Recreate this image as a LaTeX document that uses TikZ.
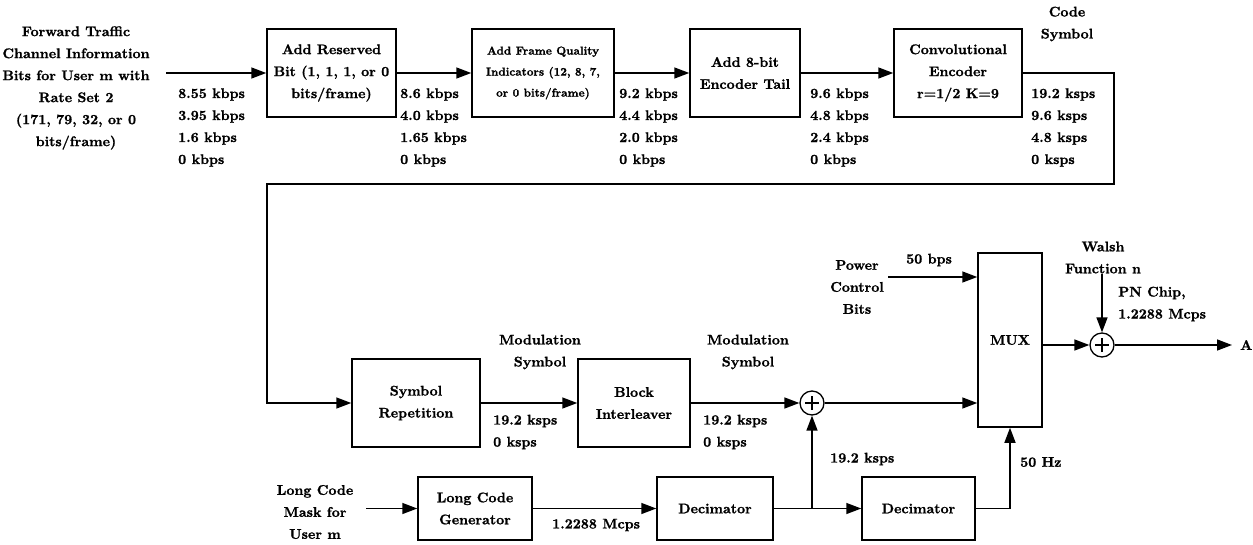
\documentclass[tikz,border=0pt]{standalone}
\usepackage{fontspec}
\setmainfont{lmroman10-regular.otf}[BoldFont=lmroman10-bold.otf, BoldFeatures={FakeBold=1.2}]
\usetikzlibrary{arrows.meta}
\begin{document}
\begin{tikzpicture}[x=1pt,y=-1pt,
  font=\fontsize{14}{22}\selectfont\bfseries,
  blk/.style={draw, line width=1.5pt, align=center, inner sep=0pt},
  lbl/.style={align=center, inner sep=0pt},
  rate/.style={align=left, inner sep=0pt, anchor=west},
  arr/.style={line width=1.5pt, -{Triangle[length=15pt,width=11pt]}},
  adder/.style={circle, draw, line width=1.3pt, minimum size=24pt, inner sep=0pt,
    path picture={\draw[line width=1.5pt] (path picture bounding box.center) +(-7pt,0pt) -- +(7pt,0pt)
      (path picture bounding box.center) +(0pt,-7pt) -- +(0pt,7pt);}}
]
\useasboundingbox (0,0) rectangle (1253,544);

% top row blocks
\node[blk, minimum width=129pt, minimum height=88pt] (rb) at (331.5,73) {Add Reserved\\Bit (1, 1, 1, or 0\\bits/frame)};
\node[blk, minimum width=142pt, minimum height=88pt, font=\fontsize{11.5}{21}\selectfont\bfseries] (fq) at (543,73) {Add Frame Quality\\Indicators (12, 8, 7,\\or 0 bits/frame)};
\node[blk, minimum width=110pt, minimum height=88pt] (et) at (745,73) {Add 8-bit\\Encoder Tail};
\node[blk, minimum width=128pt, minimum height=88pt] (ce) at (958,73) {Convolutional\\Encoder\\r=1/2 K=9};

% middle row
\node[blk, minimum width=128pt, minimum height=88pt] (sr) at (416,403) {Symbol\\Repetition};
\node[blk, minimum width=112pt, minimum height=88pt] (bi) at (634,403) {Block\\Interleaver};
\node[adder] (add1) at (812,403) {};
\node[blk, minimum width=64pt, minimum height=174pt] (mux) at (1010,340) {MUX};
\node[adder] (add2) at (1102,345) {};

% bottom row
\node[blk, minimum width=114pt, minimum height=63pt] (lcg) at (475,508.5) {Long Code\\Generator};
\node[blk, minimum width=116pt, minimum height=63pt] (d1) at (715,508.5) {Decimator};
\node[blk, minimum width=113pt, minimum height=63pt] (d2) at (918.5,508.5) {Decimator};

% labels
\node[lbl] (inlbl) at (76,88) {Forward Traffic\\Channel Information\\Bits for User m with\\Rate Set 2\\(171, 79, 32, or 0\\bits/frame)};
\node[rate] (r0) at (178,127.5) {8.55 kbps\\3.95 kbps\\1.6 kbps\\0 kbps};
\node[rate] (r1) at (400,127.5) {8.6 kbps\\4.0 kbps\\1.65 kbps\\0 kbps};
\node[rate] (r2) at (619,127.5) {9.2 kbps\\4.4 kbps\\2.0 kbps\\0 kbps};
\node[rate] (r3) at (810,127.5) {9.6 kbps\\4.8 kbps\\2.4 kbps\\0 kbps};
\node[rate] (r4) at (1031,127.5) {19.2 ksps\\9.6 ksps\\4.8 ksps\\0 ksps};
\node[lbl] (cs) at (1067,24) {Code\\Symbol};
\node[lbl] (ms1) at (540,352) {Modulation\\Symbol};
\node[lbl] (ms2) at (748,352) {Modulation\\Symbol};
\node[rate] (r5) at (493,432) {19.2 ksps\\0 ksps};
\node[rate] (r6) at (703,432) {19.2 ksps\\0 ksps};
\node[rate] (r7) at (552,525) {1.2288 Mcps};
\node[rate] (r8) at (830,459) {19.2 ksps};
\node[rate] (r9) at (1020,462) {50 Hz};
\node[lbl] (pcb) at (857,287) {Power\\Control\\Bits};
\node[rate] (r10) at (906,260) {50 bps};
\node[lbl] (wf) at (1103,257.5) {Walsh\\Function n};
\node[rate] (pn) at (1118,304) {PN Chip,\\1.2288 Mcps};
\node[rate] (outA) at (1240,345) {A};
\node[lbl] (lcm) at (315,512) {Long Code\\Mask for\\User m};

% free ends
\coordinate (inst) at (166,73);
\coordinate (pcbout) at (888,277);
\coordinate (wout) at (1102,274);
\coordinate (lcmout) at (366,508.5);
\coordinate (aend) at (1232,345);

% connectors
\draw[arr] (inst) -- (rb.west);
\draw[arr] (rb.east) -- (fq.west);
\draw[arr] (fq.east) -- (et.west);
\draw[arr] (et.east) -- (ce.west);
\draw[arr] (ce.east) -- (1114,73) -- (1114,184) -- (267,184) |- (sr.west);
\draw[arr] (sr.east) -- (bi.west);
\draw[arr] (bi.east) -- (add1.west);
\draw[arr] (add1.east) -- (mux.west |- add1);
\draw[arr] (pcbout) -- (mux.west |- pcbout);
\draw[arr] (mux.east |- add2) -- (add2.west);
\draw[arr] (wout) -- (add2.north);
\draw[arr] (add2.east) -- (aend);
\draw[arr] (lcmout) -- (lcg.west);
\draw[arr] (lcg.east) -- (d1.west);
\draw[arr] (d1.east) -- (d2.west);
\draw[arr] (d1.east -| add1) -- (add1.south);
\draw[arr] (d2.east) -| (mux.south);
\end{tikzpicture}
\end{document}
